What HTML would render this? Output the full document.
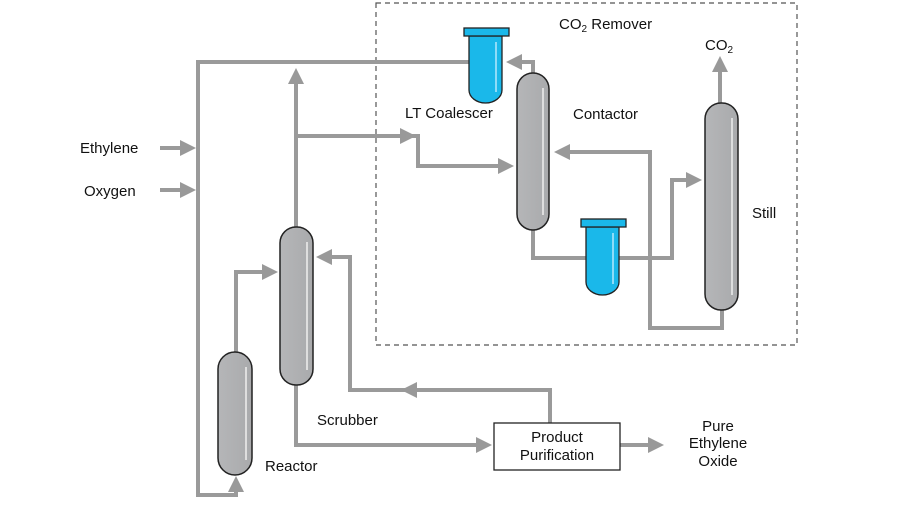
<!DOCTYPE html>
<html><head><style>body{margin:0;background:#fff}</style></head><body>
<svg width="900" height="503" xmlns="http://www.w3.org/2000/svg" font-family="Liberation Sans, sans-serif" font-size="15">
<defs>
<linearGradient id="g" x1="0" x2="1"><stop offset="0" stop-color="#b5b6b8"/><stop offset="1" stop-color="#a9aaac"/></linearGradient>
<marker id="a" markerWidth="4" markerHeight="4" refX="3" refY="2" orient="auto" markerUnits="strokeWidth"><path d="M0,0 L4,2 L0,4 Z" fill="#999"/></marker>
</defs>
<rect x="376" y="3" width="421" height="342" fill="none" stroke="#555" stroke-width="1.2" stroke-dasharray="5,4"/>
<g fill="none" stroke="#9a9a9a" stroke-width="4">
<path d="M160,148 H192" marker-end="url(#a)"/>
<path d="M160,190 H192" marker-end="url(#a)"/>
<path d="M470,62 H198 V495 H236 V480" marker-end="url(#a)"/>
<path d="M296,228 V72" marker-end="url(#a)"/>
<path d="M296,136 H412" marker-end="url(#a)"/>
<path d="M406,136 H418 V166 H510" marker-end="url(#a)"/>
<path d="M533,75 V62 H510" marker-end="url(#a)"/>
<path d="M720,105 V60" marker-end="url(#a)"/>
<path d="M533,230 V258 H672 V180 H698" marker-end="url(#a)"/>
<path d="M722,310 V328 H650 V152 H558" marker-end="url(#a)"/>
<path d="M236,352 V272 H274" marker-end="url(#a)"/>
<path d="M550,423 V390 H350 V257 H320" marker-end="url(#a)"/>
<path d="M450,390 H405" marker-end="url(#a)"/>
<path d="M296,385 V445 H488" marker-end="url(#a)"/>
<path d="M620,445 H660" marker-end="url(#a)"/>
</g>
<g stroke="#222" stroke-width="1.5" fill="url(#g)">
<rect x="517" y="73" width="32" height="157" rx="16"/>
<rect x="705" y="103" width="33" height="207" rx="16"/>
<rect x="280" y="227" width="33" height="158" rx="16"/>
<rect x="218" y="352" width="34" height="123" rx="17"/>
</g>
<g stroke="#eee" stroke-width="1.5">
<line x1="543" y1="88" x2="543" y2="215"/><line x1="732" y1="118" x2="732" y2="295"/>
<line x1="307" y1="242" x2="307" y2="370"/><line x1="246" y1="367" x2="246" y2="460"/>
</g>
<g stroke="#222" stroke-width="1.3" fill="#1ab8ea">
<path d="M469,36 V90 A16.5,13 0 0 0 502,90 V36 Z"/>
<rect x="464" y="28" width="45" height="8"/>
<path d="M586,227 V282 A16.5,13 0 0 0 619,282 V227 Z"/>
<rect x="581" y="219" width="45" height="8"/>
</g>
<line x1="496" y1="42" x2="496" y2="92" stroke="#cdefff" stroke-width="1.3"/>
<line x1="613" y1="233" x2="613" y2="284" stroke="#cdefff" stroke-width="1.3"/>
<rect x="494" y="423" width="126" height="47" fill="#fff" stroke="#222" stroke-width="1.3"/>
<g fill="#111">
<text x="80" y="153">Ethylene</text>
<text x="84" y="196">Oxygen</text>
<text x="559" y="29">CO<tspan font-size="10" dy="3">2</tspan><tspan dy="-3"> Remover</tspan></text>
<text x="705" y="50">CO<tspan font-size="10" dy="3">2</tspan></text>
<text x="405" y="118">LT Coalescer</text>
<text x="573" y="119">Contactor</text>
<text x="752" y="218">Still</text>
<text x="317" y="425">Scrubber</text>
<text x="265" y="471">Reactor</text>
<text x="557" y="442" text-anchor="middle">Product</text>
<text x="557" y="460" text-anchor="middle">Purification</text>
<text x="718" y="431" text-anchor="middle">Pure</text>
<text x="718" y="448" text-anchor="middle">Ethylene</text>
<text x="718" y="466" text-anchor="middle">Oxide</text>
</g>
</svg>
</body></html>
